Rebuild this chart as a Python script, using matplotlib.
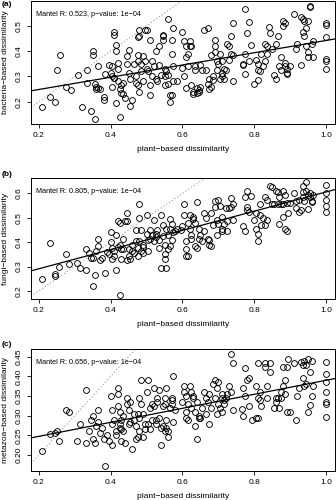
import numpy as np
import matplotlib
matplotlib.use("Agg")
import matplotlib.pyplot as plt

plt.rcParams['font.family'] = ['Liberation Sans', 'DejaVu Sans']

# (a) bacteria vs plant dissimilarity
plant_a = [0.21, 0.23, 0.245, 0.25, 0.26, 0.275, 0.29, 0.31, 0.32, 0.335, 0.335, 0.345, 0.35, 0.35,
           0.355, 0.355, 0.36, 0.36, 0.365, 0.365, 0.37, 0.38, 0.38, 0.385, 0.395, 0.40, 0.405, 0.405,
           0.405, 0.41, 0.41, 0.415, 0.415, 0.42, 0.42, 0.41, 0.41, 0.415, 0.42, 0.425, 0.425, 0.43,
           0.43, 0.435, 0.435, 0.44, 0.445, 0.445, 0.45, 0.45, 0.455, 0.455, 0.46, 0.465, 0.47, 0.47,
           0.475, 0.48, 0.48, 0.475, 0.475, 0.475, 0.48, 0.485, 0.485, 0.49, 0.495, 0.50, 0.49, 0.495,
           0.50, 0.505, 0.51, 0.51, 0.51, 0.515, 0.515, 0.52, 0.525, 0.525, 0.53, 0.535, 0.535, 0.54,
           0.545, 0.545, 0.545, 0.55, 0.55, 0.55, 0.555, 0.56, 0.56, 0.56, 0.565, 0.565, 0.57, 0.57,
           0.57, 0.575, 0.575, 0.575, 0.585, 0.60, 0.60, 0.605, 0.605, 0.61, 0.61, 0.61, 0.615, 0.615,
           0.62, 0.62, 0.625, 0.625, 0.63, 0.63, 0.635, 0.635, 0.64, 0.64, 0.645, 0.645, 0.65, 0.65,
           0.655, 0.66, 0.665, 0.67, 0.67, 0.675, 0.675, 0.68, 0.68, 0.685, 0.685, 0.69, 0.69, 0.69,
           0.695, 0.695, 0.70, 0.705, 0.705, 0.71, 0.71, 0.71, 0.715, 0.715, 0.72, 0.725, 0.73, 0.73,
           0.735, 0.735, 0.74, 0.74, 0.74, 0.775, 0.77, 0.77, 0.775, 0.775, 0.78, 0.785, 0.785, 0.79,
           0.80, 0.805, 0.81, 0.81, 0.81, 0.815, 0.82, 0.825, 0.83, 0.83, 0.835, 0.835, 0.84, 0.845,
           0.85, 0.855, 0.86, 0.86, 0.865, 0.87, 0.875, 0.875, 0.88, 0.88, 0.885, 0.885, 0.885, 0.89,
           0.89, 0.89, 0.90, 0.91, 0.915, 0.92, 0.93, 0.93, 0.935, 0.935, 0.94, 0.94, 0.945, 0.945,
           0.95, 0.95, 0.95, 0.955, 0.955, 0.96, 0.965, 0.965, 1.0, 1.0, 1.0, 1.0, 1.0, 1.0]
bact = [0.18, 0.22, 0.20, 0.325, 0.385, 0.26, 0.245, 0.305, 0.18, 0.325, 0.275, 0.165, 0.40, 0.385,
        0.13, 0.27, 0.26, 0.25, 0.255, 0.34, 0.25, 0.22, 0.205, 0.31, 0.345, 0.315, 0.34, 0.30,
        0.26, 0.475, 0.465, 0.425, 0.40, 0.355, 0.33, 0.295, 0.295, 0.195, 0.28, 0.25, 0.14, 0.265,
        0.235, 0.275, 0.23, 0.215, 0.35, 0.38, 0.405, 0.315, 0.29, 0.185, 0.205, 0.35, 0.30, 0.275,
        0.455, 0.46, 0.485, 0.385, 0.36, 0.265, 0.24, 0.35, 0.32, 0.28, 0.485, 0.485, 0.38, 0.36,
        0.33, 0.32, 0.225, 0.445, 0.265, 0.36, 0.30, 0.34, 0.29, 0.40, 0.28, 0.42, 0.345, 0.305,
        0.445, 0.465, 0.46, 0.33, 0.30, 0.265, 0.32, 0.27, 0.525, 0.305, 0.225, 0.20, 0.225, 0.445,
        0.39, 0.49, 0.34, 0.28, 0.28, 0.475, 0.335, 0.30, 0.44, 0.42, 0.375, 0.255, 0.34, 0.39,
        0.44, 0.42, 0.265, 0.42, 0.24, 0.23, 0.34, 0.325, 0.255, 0.235, 0.245, 0.24, 0.345, 0.26,
        0.325, 0.485, 0.325, 0.27, 0.49, 0.29, 0.25, 0.26, 0.385, 0.30, 0.285, 0.445, 0.42, 0.395,
        0.36, 0.325, 0.35, 0.39, 0.29, 0.315, 0.30, 0.36, 0.29, 0.33, 0.325, 0.43, 0.42, 0.365,
        0.46, 0.39, 0.51, 0.28, 0.385, 0.565, 0.345, 0.35, 0.31, 0.39, 0.47, 0.515, 0.36, 0.425,
        0.27, 0.365, 0.285, 0.325, 0.35, 0.32, 0.39, 0.34, 0.36, 0.43, 0.42, 0.39, 0.495, 0.47,
        0.41, 0.305, 0.29, 0.43, 0.46, 0.34, 0.325, 0.375, 0.50, 0.52, 0.355, 0.51, 0.34, 0.33,
        0.315, 0.31, 0.34, 0.545, 0.41, 0.43, 0.345, 0.535, 0.525, 0.475, 0.46, 0.52, 0.49, 0.42,
        0.52, 0.395, 0.375, 0.58, 0.575, 0.43, 0.44, 0.375, 0.51, 0.505, 0.455, 0.37, 0.36, 0.33]

# (b) fungi vs plant dissimilarity
plant_b = [0.21, 0.23, 0.245, 0.245, 0.255, 0.275, 0.285, 0.305, 0.315, 0.33, 0.33, 0.34, 0.345, 0.35,
           0.35, 0.355, 0.36, 0.365, 0.365, 0.37, 0.375, 0.385, 0.39, 0.395, 0.40, 0.40, 0.405, 0.405,
           0.41, 0.41, 0.415, 0.415, 0.42, 0.42, 0.425, 0.425, 0.425, 0.43, 0.43, 0.435, 0.435, 0.44,
           0.445, 0.445, 0.445, 0.45, 0.45, 0.455, 0.46, 0.46, 0.465, 0.47, 0.47, 0.475, 0.475, 0.48,
           0.48, 0.48, 0.485, 0.485, 0.49, 0.49, 0.49, 0.50, 0.50, 0.505, 0.505, 0.51, 0.51, 0.515,
           0.52, 0.52, 0.525, 0.525, 0.53, 0.535, 0.535, 0.54, 0.54, 0.545, 0.545, 0.55, 0.55, 0.55,
           0.555, 0.555, 0.56, 0.56, 0.565, 0.565, 0.565, 0.57, 0.57, 0.575, 0.58, 0.585, 0.595, 0.60,
           0.605, 0.605, 0.61, 0.61, 0.61, 0.615, 0.615, 0.62, 0.62, 0.625, 0.625, 0.63, 0.63, 0.635,
           0.635, 0.64, 0.64, 0.645, 0.645, 0.65, 0.655, 0.66, 0.66, 0.665, 0.67, 0.675, 0.675, 0.68,
           0.68, 0.685, 0.69, 0.69, 0.695, 0.695, 0.70, 0.70, 0.705, 0.71, 0.71, 0.71, 0.715, 0.72,
           0.725, 0.725, 0.73, 0.735, 0.735, 0.74, 0.74, 0.77, 0.775, 0.775, 0.78, 0.78, 0.78, 0.785,
           0.79, 0.80, 0.805, 0.805, 0.81, 0.81, 0.815, 0.815, 0.82, 0.825, 0.83, 0.83, 0.835, 0.835,
           0.845, 0.85, 0.85, 0.855, 0.86, 0.865, 0.865, 0.87, 0.87, 0.875, 0.88, 0.88, 0.88, 0.885,
           0.885, 0.89, 0.89, 0.895, 0.90, 0.91, 0.915, 0.915, 0.925, 0.925, 0.93, 0.935, 0.935, 0.935,
           0.94, 0.945, 0.945, 0.95, 0.95, 0.955, 0.955, 0.96, 0.96, 0.965, 1.0, 1.0, 1.0, 1.0, 1.0]
fungi = [0.25, 0.395, 0.26, 0.27, 0.30, 0.35, 0.31, 0.315, 0.295, 0.37, 0.285, 0.355, 0.335, 0.335,
         0.22, 0.265, 0.365, 0.415, 0.385, 0.325, 0.335, 0.275, 0.36, 0.35, 0.44, 0.40, 0.33, 0.375,
         0.345, 0.365, 0.285, 0.43, 0.38, 0.485, 0.48, 0.39, 0.185, 0.37, 0.33, 0.415, 0.37, 0.485,
         0.325, 0.52, 0.485, 0.37, 0.345, 0.33, 0.39, 0.365, 0.355, 0.45, 0.405, 0.375, 0.345, 0.50,
         0.555, 0.405, 0.45, 0.365, 0.38, 0.355, 0.39, 0.435, 0.51, 0.41, 0.365, 0.45, 0.415, 0.43,
         0.49, 0.405, 0.435, 0.42, 0.45, 0.375, 0.41, 0.51, 0.295, 0.425, 0.47, 0.35, 0.33, 0.39,
         0.455, 0.295, 0.43, 0.37, 0.495, 0.385, 0.455, 0.41, 0.475, 0.44, 0.445, 0.455, 0.45, 0.465,
         0.555, 0.51, 0.37, 0.405, 0.345, 0.345, 0.48, 0.455, 0.51, 0.415, 0.43, 0.495, 0.505, 0.385,
         0.48, 0.565, 0.375, 0.455, 0.415, 0.43, 0.405, 0.52, 0.445, 0.50, 0.415, 0.39, 0.41, 0.385,
         0.52, 0.47, 0.57, 0.545, 0.49, 0.43, 0.475, 0.575, 0.55, 0.455, 0.445, 0.505, 0.475, 0.54,
         0.445, 0.485, 0.54, 0.58, 0.545, 0.555, 0.49, 0.465, 0.445, 0.585, 0.53, 0.545, 0.61, 0.525,
         0.59, 0.49, 0.52, 0.455, 0.435, 0.405, 0.51, 0.555, 0.47, 0.50, 0.47, 0.585, 0.575, 0.49,
         0.63, 0.625, 0.555, 0.555, 0.61, 0.605, 0.555, 0.475, 0.585, 0.555, 0.505, 0.61, 0.555, 0.455,
         0.595, 0.56, 0.445, 0.52, 0.56, 0.60, 0.57, 0.54, 0.575, 0.525, 0.53, 0.605, 0.63, 0.585,
         0.57, 0.645, 0.61, 0.595, 0.535, 0.585, 0.60, 0.57, 0.565, 0.595, 0.635, 0.60, 0.575, 0.55, 0.525]

# (c) metazoa vs plant dissimilarity
plant_c = [0.21, 0.23, 0.245, 0.25, 0.255, 0.275, 0.285, 0.305, 0.315, 0.33, 0.33, 0.34, 0.345, 0.35,
           0.35, 0.355, 0.36, 0.365, 0.365, 0.37, 0.375, 0.38, 0.385, 0.39, 0.395, 0.40, 0.405, 0.405,
           0.405, 0.41, 0.415, 0.415, 0.42, 0.42, 0.42, 0.425, 0.425, 0.425, 0.43, 0.43, 0.43, 0.435,
           0.435, 0.44, 0.445, 0.445, 0.45, 0.45, 0.455, 0.455, 0.46, 0.465, 0.465, 0.47, 0.47, 0.475,
           0.475, 0.48, 0.48, 0.48, 0.485, 0.485, 0.49, 0.49, 0.495, 0.495, 0.50, 0.505, 0.505, 0.51,
           0.51, 0.515, 0.515, 0.52, 0.52, 0.525, 0.525, 0.53, 0.53, 0.535, 0.535, 0.54, 0.54, 0.545,
           0.545, 0.55, 0.55, 0.55, 0.555, 0.555, 0.555, 0.56, 0.56, 0.565, 0.57, 0.57, 0.57, 0.575,
           0.575, 0.58, 0.60, 0.605, 0.605, 0.61, 0.61, 0.61, 0.615, 0.615, 0.62, 0.625, 0.625, 0.63,
           0.63, 0.635, 0.635, 0.64, 0.64, 0.645, 0.645, 0.65, 0.655, 0.66, 0.665, 0.665, 0.67, 0.675,
           0.675, 0.68, 0.685, 0.69, 0.69, 0.695, 0.695, 0.70, 0.70, 0.705, 0.71, 0.71, 0.71, 0.715,
           0.715, 0.72, 0.725, 0.73, 0.735, 0.735, 0.74, 0.74, 0.765, 0.77, 0.77, 0.775, 0.775, 0.78,
           0.785, 0.785, 0.795, 0.805, 0.805, 0.81, 0.81, 0.81, 0.815, 0.815, 0.82, 0.83, 0.83, 0.835,
           0.835, 0.845, 0.845, 0.855, 0.86, 0.86, 0.865, 0.87, 0.875, 0.875, 0.88, 0.88, 0.885, 0.885,
           0.89, 0.89, 0.895, 0.90, 0.91, 0.915, 0.92, 0.925, 0.93, 0.935, 0.935, 0.94, 0.94, 0.945,
           0.945, 0.95, 0.95, 0.955, 0.955, 0.96, 0.96, 0.965, 1.0, 1.0, 1.0, 1.0, 1.0, 1.0, 1.0]
metazoa = [0.21, 0.253, 0.255, 0.26, 0.235, 0.315, 0.31, 0.235, 0.28, 0.365, 0.23, 0.26, 0.29, 0.30,
           0.24, 0.23, 0.275, 0.315, 0.285, 0.255, 0.27, 0.24, 0.171, 0.25, 0.235, 0.35, 0.315, 0.225,
           0.28, 0.29, 0.26, 0.25, 0.37, 0.355, 0.325, 0.31, 0.28, 0.27, 0.235, 0.29, 0.265, 0.30,
           0.26, 0.23, 0.345, 0.33, 0.315, 0.28, 0.285, 0.335, 0.215, 0.29, 0.305, 0.24, 0.275, 0.245,
           0.305, 0.295, 0.26, 0.345, 0.33, 0.39, 0.305, 0.245, 0.28, 0.265, 0.36, 0.39, 0.28, 0.32,
           0.265, 0.29, 0.33, 0.37, 0.325, 0.29, 0.28, 0.335, 0.345, 0.365, 0.295, 0.225, 0.27, 0.325,
           0.275, 0.345, 0.33, 0.26, 0.37, 0.29, 0.27, 0.245, 0.26, 0.32, 0.34, 0.33, 0.345, 0.40,
           0.285, 0.315, 0.335, 0.375, 0.36, 0.31, 0.35, 0.295, 0.29, 0.33, 0.375, 0.32, 0.36, 0.345,
           0.35, 0.275, 0.31, 0.24, 0.335, 0.295, 0.30, 0.295, 0.32, 0.36, 0.345, 0.305, 0.335, 0.28,
           0.355, 0.32, 0.38, 0.39, 0.345, 0.305, 0.37, 0.33, 0.385, 0.32, 0.345, 0.31, 0.355, 0.33,
           0.34, 0.345, 0.355, 0.375, 0.458, 0.36, 0.315, 0.435, 0.318, 0.30, 0.37, 0.42, 0.35, 0.39,
           0.395, 0.325, 0.29, 0.295, 0.375, 0.295, 0.345, 0.435, 0.36, 0.34, 0.325, 0.425, 0.435, 0.375,
           0.345, 0.435, 0.41, 0.32, 0.345, 0.335, 0.345, 0.32, 0.36, 0.345, 0.425, 0.375, 0.39, 0.355,
           0.425, 0.31, 0.445, 0.31, 0.435, 0.29, 0.35, 0.37, 0.437, 0.428, 0.395, 0.375, 0.44, 0.43,
           0.38, 0.31, 0.445, 0.41, 0.328, 0.44, 0.35, 0.375, 0.437, 0.405, 0.385, 0.36, 0.335, 0.33, 0.297]

# fitted lines: (intercept, slope)
fit_a = (0.200, 0.242)
fit_b = (0.212, 0.394)
fit_c = (0.212, 0.178)

panels = [
    ("(a)", plant_a, bact, fit_a, "bacteria\u2212based dissimilarity", "Mantel R: 0.523, p\u2212value: 1e\u221204",
     [0.2, 0.3, 0.4, 0.5], "%.1f", [31, 1, 335, 124]),
    ("(b)", plant_b, fungi, fit_b, "fungi\u2212based dissimilarity", "Mantel R: 0.805, p\u2212value: 1e\u221204",
     [0.2, 0.3, 0.4, 0.5, 0.6], "%.1f", [31, 178, 335, 299]),
    ("(c)", plant_c, metazoa, fit_c, "metazoa\u2212based dissimilarity", "Mantel R: 0.656, p\u2212value: 1e\u221204",
     [0.20, 0.25, 0.30, 0.35, 0.40, 0.45], "%.2f", [31, 349, 335, 471]),
]

W, H = 336, 500
fig = plt.figure(figsize=(W / 100, H / 100), dpi=100)
xlim = (0.178, 1.025)

for tag, x, y, fit, ylab, note, yticks, yfmt, box in panels:
    l, t, r, b = box
    ax = fig.add_axes([l / W, 1 - b / H, (r - l) / W, (b - t) / H])
    # R-style axis range: data range plus 4% on each side
    lo, hi = min(y), max(y)
    pad = 0.04 * (hi - lo)
    ylim = (lo - pad, hi + pad)
    ax.plot(xlim, xlim, linestyle=(0, (1, 2)), color='#9a9a9a', lw=0.8)
    ax.plot(x, y, 'o', mfc='none', mec='black', ms=4.2, mew=0.65)
    xs = np.array(xlim)
    ax.plot(xs, fit[0] + fit[1] * xs, color='black', lw=0.9)
    ax.set_xlim(xlim)
    ax.set_ylim(ylim)
    ax.set_xticks([0.2, 0.4, 0.6, 0.8, 1.0])
    ax.set_xticklabels(["%.1f" % v for v in [0.2, 0.4, 0.6, 0.8, 1.0]])
    ax.set_yticks(yticks)
    ax.set_yticklabels([yfmt % v for v in yticks], rotation=90, va='center')
    ax.tick_params(length=3, width=0.6, labelsize=6, pad=3)
    for s in ax.spines.values():
        s.set_linewidth(0.7)
    hpx = b - t
    ax.set_xlabel("plant\u2212based dissimilarity", fontsize=6)
    ax.xaxis.set_label_coords(0.5, -22 / hpx)
    ax.set_ylabel(ylab, fontsize=6)
    ax.yaxis.set_label_coords(-(l - 9) / (r - l), 0.5)
    ax.text(0.016, 0.89, note, transform=ax.transAxes, fontsize=5.2, va='center', ha='left')
    fig.text(2 / W, 1 - (t - 4 if t > 10 else 5) / H, tag, fontsize=6, fontweight='bold',
             va='center', ha='left')

fig.savefig("out.png", dpi=100)
